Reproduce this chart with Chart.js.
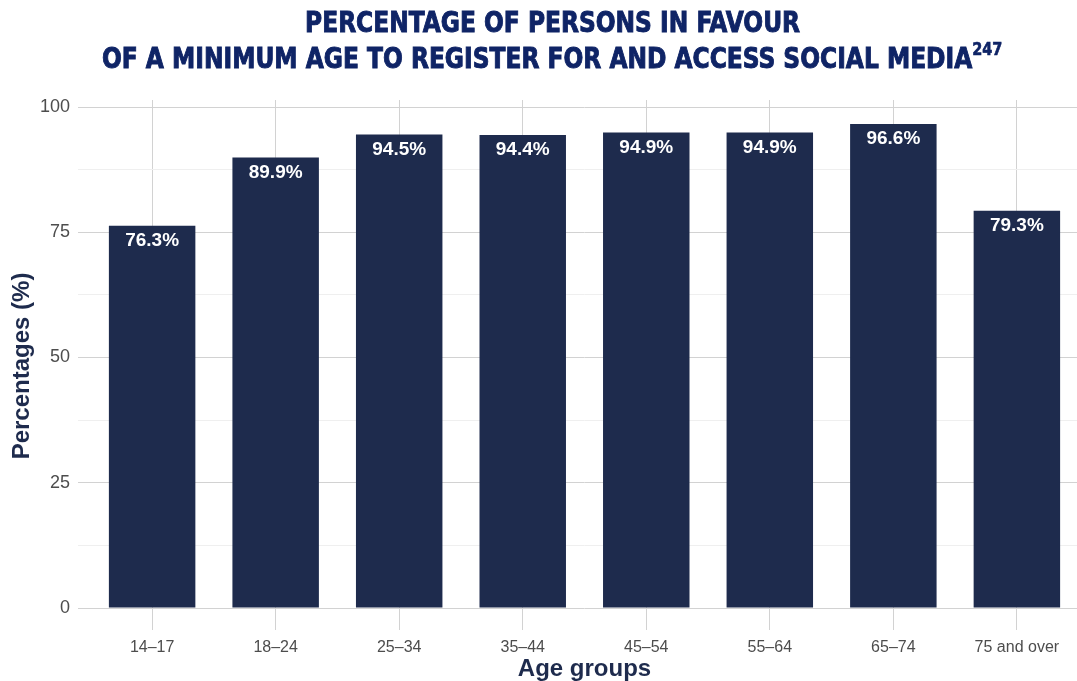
<!DOCTYPE html>
<html><head><meta charset="utf-8">
<script src="https://cdn.jsdelivr.net/npm/chart.js@4.4.1/dist/chart.umd.min.js"></script>
<style>
html,body{margin:0;padding:0;background:#fff;overflow:hidden;width:1077px;height:681px;}
#wrap{position:absolute;left:0;top:0;width:1092px;height:681px;}
#title{position:absolute;left:0;top:0;width:1105px;text-align:center;color:#0f2466;font-family:"DejaVu Sans Condensed","DejaVu Sans",sans-serif;font-weight:bold;font-size:29px;line-height:35.5px;padding-top:5px;z-index:2;-webkit-text-stroke:0.9px #0f2466}
.line{display:block;white-space:nowrap}
.line span{display:inline-block;transform-origin:center}
sup{font-size:0.62em;line-height:0;position:relative;top:-2px;-webkit-text-stroke:0.6px #0f2466}
</style>
</head><body>
<div id="title">
  <div class="line"><span id="t1">PERCENTAGE OF PERSONS IN FAVOUR</span></div>
  <div class="line"><span id="t2">OF A MINIMUM AGE TO REGISTER FOR AND ACCESS SOCIAL MEDIA<sup>247</sup></span></div>
</div>
<div id="wrap"><canvas id="c"></canvas></div>
<script>
const categories = ["14–17","18–24","25–34","35–44","45–54","55–64","65–74","75 and over"];
const values = [76.3, 89.9, 94.5, 94.4, 94.9, 94.9, 96.6, 79.3];
const yMajorTicks = [0, 25, 50, 75, 100];
const yMinorTicks = [12.5, 37.5, 62.5, 87.5];
const yTitle = 'Percentages (%)';

// condense title glyphs to match reference width
(function(){
  const t1 = document.getElementById('t1');
  const w = t1.getBoundingClientRect().width;
  const k = 495 / w;
  document.querySelectorAll('.line span').forEach(s => s.style.transform = 'scaleX(' + k + ')');
})();

Chart.defaults.font.family = '"Liberation Sans", Arial, sans-serif';

const valueLabels = {
  id: 'valueLabels',
  afterDatasetsDraw(chart) {
    const ctx = chart.ctx;
    const meta = chart.getDatasetMeta(0);
    meta.data.forEach((el, i) => {
      ctx.save();
      ctx.fillStyle = '#ffffff';
      ctx.font = 'bold 19px "Liberation Sans", Arial, sans-serif';
      ctx.textAlign = 'center';
      ctx.textBaseline = 'middle';
      ctx.fillText(values[i].toFixed(1) + '%', el.x, el.y + 15);
      ctx.restore();
    });
  }
};

const yAxisTitle = {
  id: 'yAxisTitle',
  afterDraw(chart) {
    const ctx = chart.ctx;
    const a = chart.chartArea;
    ctx.save();
    ctx.translate(22, (a.top + a.bottom) / 2 + 12);
    ctx.rotate(-Math.PI / 2);
    ctx.fillStyle = '#1e2b4d';
    ctx.font = 'bold 24px "Liberation Sans", Arial, sans-serif';
    ctx.textAlign = 'center';
    ctx.textBaseline = 'middle';
    ctx.fillText(yTitle, 0, 0);
    ctx.restore();
  }
};

new Chart(document.getElementById('c'), {
  type: 'bar',
  data: {
    datasets: [{
      data: categories.map((c, i) => ({ x: i + 1, y: values[i] })),
      backgroundColor: '#1e2b4d',
      borderWidth: 0,
      barPercentage: 0.7,
      categoryPercentage: 1
    }]
  },
  options: {
    responsive: true,
    maintainAspectRatio: false,
    animation: false,
    layout: { padding: { top: 100, right: 1, left: 0, bottom: 0 } },
    plugins: { legend: { display: false }, tooltip: { enabled: false }, title: { display: false } },
    scales: {
      x: {
        type: 'linear',
        min: 0.4,
        max: 8.6,
        offset: false,
        afterBuildTicks: s => { s.ticks = categories.map((c, i) => ({ value: i + 1 })); },
        afterFit: s => { s.height = 73; },
        ticks: {
          autoSkip: false, maxRotation: 0, padding: 8,
          color: '#4d4d4d',
          font: { size: 16 },
          callback: (v, i) => categories[i]
        },
        grid: { offset: false, color: '#d2d2d2', lineWidth: 1, tickLength: 22, drawTicks: true },
        border: { display: false },
        title: { display: true, text: 'Age groups', color: '#1e2b4d', font: { size: 24, weight: 'bold' }, padding: { top: 0, bottom: -3 } }
      },
      y: {
        min: 0,
        max: 101.4,
        afterBuildTicks: s => { s.ticks = yMajorTicks.concat(yMinorTicks).sort((a, b) => a - b).map(v => ({ value: v })); },
        afterFit: s => { s.width = 78; },
        ticks: {
          autoSkip: false, padding: 8,
          color: '#4d4d4d',
          font: { size: 18 },
          callback: v => yMajorTicks.includes(v) ? String(v) : ''
        },
        grid: {
          drawTicks: false,
          lineWidth: 1,
          color: ctx => (ctx.tick && yMajorTicks.includes(ctx.tick.value)) ? '#d2d2d2' : '#efefef'
        },
        border: { display: false },
        title: { display: false }
      }
    }
  },
  plugins: [valueLabels, yAxisTitle]
});
</script>
</body></html>
